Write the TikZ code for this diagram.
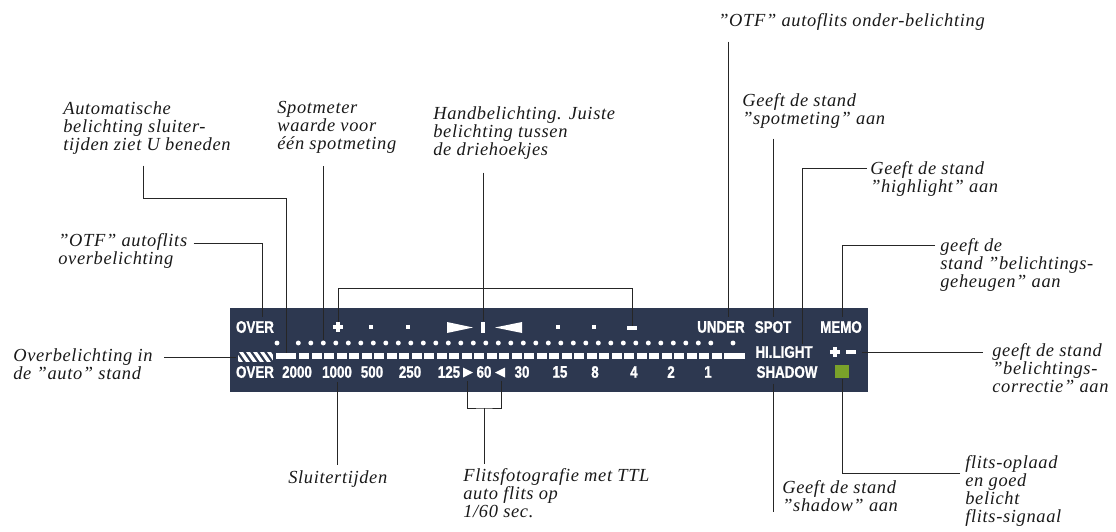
\documentclass[tikz,border=0pt]{standalone}
\usepackage{fontspec}
\setmainfont{Liberation Serif}
\newfontfamily\lblfont[LetterSpace=3.5]{Liberation Serif}
\newfontfamily\lcdfont[FakeStretch=0.8,FakeBold=1]{Liberation Sans}
\definecolor{lcdbg}{RGB}{45,56,80}
\definecolor{flashgreen}{RGB}{122,162,42}

\begin{document}
\begin{tikzpicture}[x=0.02cm,y=-0.02cm,
  lbl/.style={font=\lblfont\itshape\fontsize{10.5}{10.3}\selectfont,
    align=left,anchor=north west,inner sep=0pt,text=black!90},
  lcd/.style={font=\lcdfont\bfseries\fontsize{9.5}{9.5}\selectfont,
    text=white,inner sep=0pt},
  sym/.style={inner sep=0pt,minimum size=5.4pt},
  seg/.style={fill=white,inner sep=0pt,minimum height=3.4pt},
  pip/.style={inner sep=0pt,minimum size=2.8pt,fill=white,circle},
  lead/.style={line width=.5pt,black!85}]
  \useasboundingbox (0,0) rectangle (1116,531);
  \fill[lcdbg] (230,308) rectangle (868,392);

  % upper row
  \node[lcd] (overT) at (255,327) {OVER};
  \node[sym] (plus) at (338,327) {};
  \draw[white,line width=2pt] (plus.west) -- (plus.east) (plus.north) -- (plus.south);
  \foreach \xx in {371,408,558,594}
    \fill[white] (\xx-2,325) rectangle +(4,4);
  \fill[white] (447,322) -- (473,327.5) -- (447,333) -- cycle;
  \node[seg,minimum width=2.2pt,minimum height=6.6pt] (mbar) at (483,327.5) {};
  \fill[white] (522,322) -- (495,327.5) -- (522,333) -- cycle;
  \node[seg,minimum width=5.4pt,minimum height=2pt] (minus) at (632,328) {};
  \node[lcd] (under) at (721,327) {UNDER};
  \node[lcd] (spot) at (773,327) {SPOT};
  \node[lcd] (memo) at (841,327) {MEMO};

  % dots
  \node[pip] (dA) at (277,343) {};
  \foreach \k in {0,...,33}
    \node[pip] (d\k) at ({298.3+12.5*\k},343) {};
  \node[pip] (dZ) at (733,343) {};

  % scale bar
  \node[minimum width=19.4pt,minimum height=4.6pt,inner sep=0pt] (hatch) at (255.5,357) {};
  \begin{scope}
    \clip (hatch.south west) rectangle (hatch.north east);
    \foreach \s in {232,239,...,274}
      \fill[white] (\s,352) -- ++(4,0) -- ++(7,10) -- ++(-4,0) -- cycle;
  \end{scope}
  \node[seg,minimum width=11.4pt] (barL) at (286,356) {};
  \foreach \k in {0,...,33}
    \fill[white] ({299+12.5*\k},353) rectangle +(10,6);
  \node[seg,minimum width=12pt] (barR) at (734.5,356) {};
  \node[lcd] (hilight) at (784,352) {HI.LIGHT};
  \node[sym] (plus2) at (835,352) {};
  \draw[white,line width=2pt] (plus2.west) -- (plus2.east) (plus2.north) -- (plus2.south);
  \node[seg,minimum width=5.6pt,minimum height=2pt] (minus2) at (851,352) {};

  % shutter speeds
  \node[lcd] (overB) at (255,372) {OVER};
  \foreach \lab/\xx in {2000/297,1000/337,500/372,250/410,125/449,60/484,30/522,15/560,8/595,4/634,2/671,1/708}
    \node[lcd] (t\lab) at (\xx,372) {\lab};
  \fill[white] (463,367.5) -- (473,372.5) -- (463,377.5) -- cycle;
  \fill[white] (505,367.5) -- (495,372.5) -- (505,377.5) -- cycle;
  \coordinate (r60) at (467,381);
  \coordinate (l60) at (501,381);
  \node[lcd] (shadow) at (787,372) {SHADOW};
  \node[fill=flashgreen,minimum size=7.6pt,inner sep=0pt] (flash) at (842,371.5) {};

  % labels
  \node[lbl] (lauto) at (63,101) {Automatische\\belichting sluiter-\\tijden ziet U beneden};
  \node[lbl] (lspot) at (277,101) {Spotmeter\\waarde voor\\één spotmeting};
  \node[lbl] (lhand) at (433,106) {Handbelichting. Juiste\\belichting tussen\\de driehoekjes};
  \node[lbl] (lotfu) at (718,13) {”OTF” autoflits onder-belichting};
  \node[lbl] (lgspot) at (742,93) {Geeft de stand\\”spotmeting” aan};
  \node[lbl] (lhigh) at (870,161) {Geeft de stand\\”highlight” aan};
  \node[lbl] (lmemo) at (940,238) {geeft de\\stand ”belichtings-\\geheugen” aan};
  \node[lbl] (lotfo) at (58,233) {”OTF” autoflits\\overbelichting};
  \node[lbl] (lover) at (13,348) {Overbelichting in\\de ”auto” stand};
  \node[lbl] (lcorr) at (992,343) {geeft de stand\\”belichtings-\\correctie” aan};
  \node[lbl] (lflash) at (965,455) {flits-oplaad\\en goed\\belicht\\flits-signaal};
  \node[lbl] (lshadow) at (782,480) {Geeft de stand\\”shadow” aan};
  \node[lbl] (lsluit) at (288,470) {Sluitertijden};
  \node[lbl] (lflits) at (463,468) {Flitsfotografie met TTL\\auto flits op\\1/60 sec.};

  % leaders
  \draw[lead] (lotfo.north east) ++(6,10) -| ([xshift=4pt,yshift=2pt]overT.north);
  \draw[lead] (lauto.south west) ++(80,11) -- ++(0,33) -| (barL.north);
  \draw[lead] (d2.north |- lspot.south) ++(0,12) -- (d2.north);
  \draw[lead] (mbar.north |- lhand.south) ++(0,13) -- (mbar.north);
  \draw[lead] (plus.north) -- ++(0,-33) -| (minus.north);
  \draw[lead] ([xshift=4.5pt]under.north |- lotfu.south) ++(0,11) -- ([xshift=4.5pt,yshift=2pt]under.north);
  \draw[lead] (spot.north |- lgspot.south) ++(0,10) -- ([yshift=2pt]spot.north);
  \draw[lead] (lhigh.north west) ++(-3,7) -| ([xshift=10.5pt,yshift=1pt]hilight.north);
  \draw[lead] (lmemo.north west) ++(-5,7) -| ([xshift=1pt,yshift=2pt]memo.north);
  \draw[lead] ([xshift=3pt]minus2.east) -- ([xshift=-5pt]minus2.east -| lcorr.west);
  \draw[lead] (lflash.north west) ++(-5,18) -| (flash.south);
  \draw[lead] ([xshift=-8pt,yshift=-3pt]shadow.south) -- ([xshift=-8pt]shadow.south |- lshadow.south);
  \draw[lead] ([yshift=-2pt]t1000.south) -- ([yshift=3pt]t1000.south |- lsluit.north);
  \coordinate (bk) at (484,408);
  \draw[lead] (r60) |- (bk) -| (l60);
  \draw[lead] (bk) -- ([yshift=2pt]bk |- lflits.north);
  \draw[lead] ([xshift=-1pt]hatch.west) -- ([xshift=6pt]hatch.west -| lover.east);
\end{tikzpicture}
\end{document}
